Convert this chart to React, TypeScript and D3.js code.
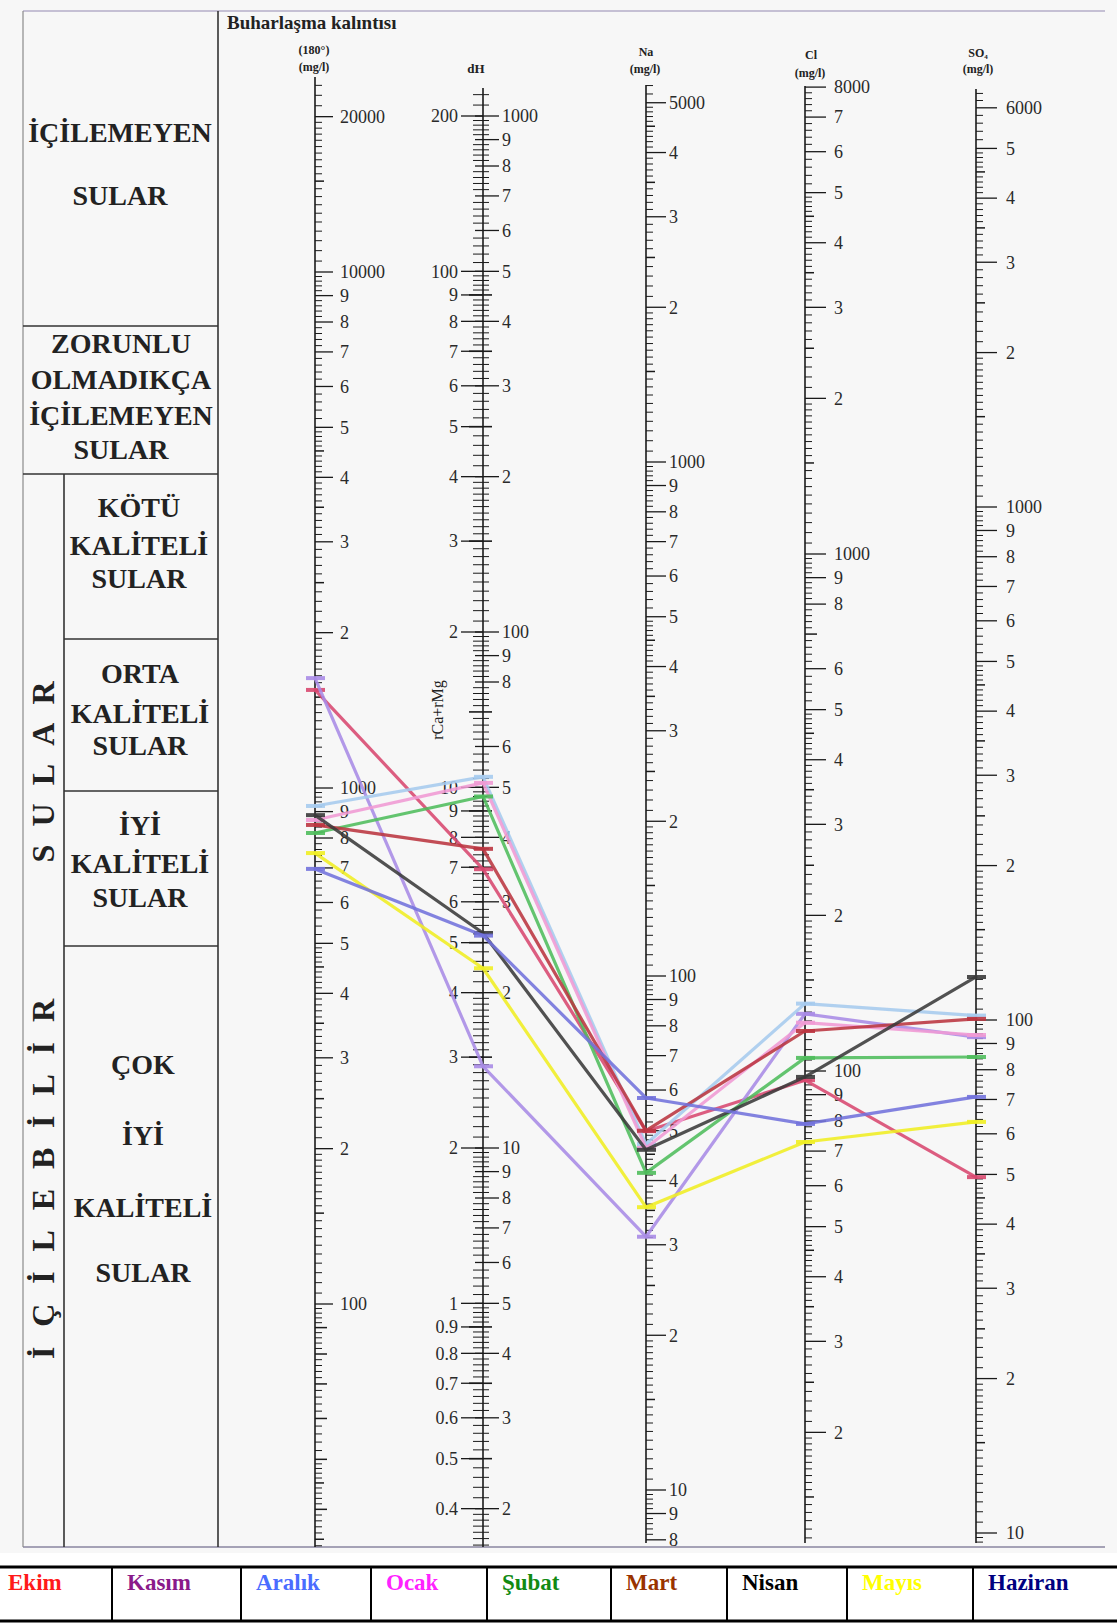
import React from 'react';
import * as d3 from 'd3';

// ---- data ----
const MONTHS = ['Ekim', 'Kasım', 'Aralık', 'Ocak', 'Şubat', 'Mart', 'Nisan', 'Mayıs', 'Haziran'];
const LEGEND_COLORS = ['#ff1a1a', '#8a1a8a', '#4a6cff', '#ff22ff', '#128a12', '#993300', '#000000', '#ffff00', '#000080'];
const PENCIL_COLORS = ['#d8486f', '#a98be6', '#a6cbee', '#f09ad4', '#4fbd5c', '#bb3540', '#3a3a3a', '#f0ee22', '#7272dc'];

// Buharlaşma kalıntısı (mg/l), dH, Na, Cl, SO4 (mg/l)
const TDS = [1549, 1633, 923, 867, 818, 848, 886, 748, 697];
const DH = [34.7, 14.4, 52.4, 51.0, 48.0, 38.0, 26.1, 22.3, 25.8];
const NA = [49.9, 31.1, 47.1, 46.3, 41.4, 50.0, 45.9, 35.5, 57.9];
const CL = [96, 129, 135, 124, 106, 119.5, 97.4, 72.9, 79];
const SO4 = [49.4, 92.6, 102, 93.5, 84.7, 100.5, 121.3, 63.3, 70.8];

// tick labels
const TDS_LABELS = [20000, 10000, 9000, 8000, 7000, 6000, 5000, 4000, 3000, 2000, 1000, 900, 800, 700, 600, 500, 400, 300, 200, 100];
const DH_RIGHT_LABELS = [1000, 900, 800, 700, 600, 500, 400, 300, 200, 100, 90, 80, 60, 50, 40, 30, 20, 10, 9, 8, 7, 6, 5, 4, 3, 2];
const DH_LEFT_LABELS = [200, 100, 90, 80, 70, 60, 50, 40, 30, 20, 10, 9, 8, 7, 6, 5, 4, 3, 2, 1, 0.9, 0.8, 0.7, 0.6, 0.5, 0.4];
const NA_LABELS = [5000, 4000, 3000, 2000, 1000, 900, 800, 700, 600, 500, 400, 300, 200, 100, 90, 80, 70, 60, 50, 40, 30, 20, 10, 9, 8];
const CL_LABELS = [8000, 7000, 6000, 5000, 4000, 3000, 2000, 1000, 900, 800, 600, 500, 400, 300, 200, 100, 90, 80, 70, 60, 50, 40, 30, 20];
const SO4_LABELS = [6000, 5000, 4000, 3000, 2000, 1000, 900, 800, 700, 600, 500, 400, 300, 200, 100, 90, 80, 70, 60, 50, 40, 30, 20, 10];
const SUBDIV = [[1, 2, 0.05], [2, 5, 0.1], [5, 10, 0.2]];

const near = (a: number, b: number) => Math.abs(a - b) / b < 1e-6;
const isPow10 = (v: number) => Math.abs(Math.log10(v) - Math.round(Math.log10(v))) < 1e-9;
function fmt(v: number, first: boolean) {
  if (v < 1) return String(v);
  if (first || isPow10(v)) return String(v);
  return String(Math.round(v / Math.pow(10, Math.floor(Math.log10(v) + 1e-9))));
}

function genTicks(scale: any, yTop: number, yBot: number) {
  const vTop = scale.invert(yTop), vBot = scale.invert(yBot);
  const lo = Math.min(vTop, vBot), hi = Math.max(vTop, vBot);
  const out: { v: number; kind: string }[] = [];
  for (let e = Math.floor(Math.log10(lo)); e <= Math.ceil(Math.log10(hi)); e++) {
    const base = Math.pow(10, e);
    for (const [a, b, s] of SUBDIV) {
      for (let m = a; m < b - 1e-9; m += s) {
        const mm = Math.round(m * 100) / 100;
        const v = base * mm;
        if (v < lo || v > hi) continue;
        const kind = Math.abs(mm - Math.round(mm)) < 1e-6 ? 'int' : Math.abs(mm * 2 - Math.round(mm * 2)) < 1e-6 ? 'half' : 'minor';
        out.push({ v, kind });
      }
    }
  }
  return out;
}

export default function App() {
  const W = 1117, H = 1623;
  const axes = [
    { key: 'tds', x: 315, yTop: 77, yBot: 1547, scale: d3.scaleLog().domain([1000, 100]).range([788, 1304]), labels: TDS_LABELS, dx: 25, major: 18 },
    { key: 'dh', x: 483, yTop: 88, yBot: 1547, scale: d3.scaleLog().domain([100, 10]).range([632, 1148]), labels: DH_RIGHT_LABELS, dx: 19, major: 16 },
    { key: 'na', x: 646, yTop: 85, yBot: 1543, scale: d3.scaleLog().domain([100, 10]).range([976, 1490]), labels: NA_LABELS, dx: 23, major: 20 },
    { key: 'cl', x: 805, yTop: 86, yBot: 1543, scale: d3.scaleLog().domain([100, 10]).range([1071, 1588]), labels: CL_LABELS, dx: 29, major: 21 },
    { key: 'so4', x: 976, yTop: 89, yBot: 1543, scale: d3.scaleLog().domain([100, 10]).range([1020, 1533]), labels: SO4_LABELS, dx: 30, major: 21 },
  ];
  const series = [TDS, DH, NA, CL, SO4];
  const line = d3.line<[number, number]>().x(d => d[0]).y(d => d[1]);
  const dhAxis = axes[1];

  const bold = { fontWeight: 'bold' as const };
  const colText = '#222';

  const blockText = (lines: string[], cx: number, baselines: number[]) =>
    lines.map((t, i) => (
      <text key={t + i} x={cx} y={baselines[i]} textAnchor="middle" fontSize={28} fill={colText} style={bold}>{t}</text>
    ));

  const legendSeps = [112, 241, 371, 487, 611, 727, 847, 973];
  const legendStarts = [0, ...legendSeps];

  return (
    <div style={{ position: 'absolute', left: 0, top: 0 }}>
      <svg width={W} height={H} fontFamily="'Liberation Serif','Times New Roman',serif" style={{ display: 'block' }}>
        <rect x={0} y={0} width={W} height={1553} fill="#f7f7f7" />
        <rect x={0} y={1553} width={W} height={H - 1553} fill="#ffffff" />

        {/* frame */}
        <line x1={23} x2={1105} y1={11} y2={11} stroke="#b4aec8" strokeWidth={1.5} />
        <line x1={23} x2={1105} y1={1547} y2={1547} stroke="#8a86a0" strokeWidth={1.5} />
        <line x1={23} x2={23} y1={11} y2={1547} stroke="#8a8a8a" strokeWidth={1.2} />
        <line x1={64} x2={64} y1={474} y2={1547} stroke="#333" strokeWidth={1.6} />
        <line x1={218} x2={218} y1={11} y2={1547} stroke="#333" strokeWidth={1.6} />
        <line x1={23} x2={218} y1={326} y2={326} stroke="#333" strokeWidth={1.6} />
        <line x1={23} x2={218} y1={474} y2={474} stroke="#333" strokeWidth={1.6} />
        <line x1={64} x2={218} y1={639} y2={639} stroke="#333" strokeWidth={1.6} />
        <line x1={64} x2={218} y1={791} y2={791} stroke="#333" strokeWidth={1.6} />
        <line x1={64} x2={218} y1={946} y2={946} stroke="#333" strokeWidth={1.6} />

        {/* class labels */}
        {blockText(['İÇİLEMEYEN', 'SULAR'], 120, [142, 205])}
        {blockText(['ZORUNLU', 'OLMADIKÇA', 'İÇİLEMEYEN', 'SULAR'], 121, [353, 389, 425, 459])}
        {blockText(['KÖTÜ', 'KALİTELİ', 'SULAR'], 139, [517, 555, 588])}
        {blockText(['ORTA', 'KALİTELİ', 'SULAR'], 140, [683, 723, 755])}
        {blockText(['İYİ', 'KALİTELİ', 'SULAR'], 140, [835, 873, 907])}
        {blockText(['ÇOK', 'İYİ', 'KALİTELİ', 'SULAR'], 143, [1074, 1145, 1217, 1282])}
        <text transform="translate(54,772) rotate(-90)" textAnchor="middle" fontSize={32} fill={colText} style={bold} textLength={181} lengthAdjust="spacing">SULAR</text>
        <text transform="translate(54,1179) rotate(-90)" textAnchor="middle" fontSize={32} fill={colText} style={bold} textLength={360} lengthAdjust="spacing">İÇİLEBİLİR</text>

        {/* headers */}
        <text x={227} y={29} fontSize={19} fill={colText} style={bold}>Buharlaşma kalıntısı</text>
        <text x={314} y={54} fontSize={12} textAnchor="middle" fill={colText} style={bold}>(180°)</text>
        <text x={314} y={71} fontSize={12} textAnchor="middle" fill={colText} style={bold}>(mg/l)</text>
        <text x={476} y={73} fontSize={13} textAnchor="middle" fill={colText} style={bold}>dH</text>
        <text x={646} y={56} fontSize={12} textAnchor="middle" fill={colText} style={bold}>Na</text>
        <text x={645} y={73} fontSize={12} textAnchor="middle" fill={colText} style={bold}>(mg/l)</text>
        <text x={811} y={59} fontSize={12} textAnchor="middle" fill={colText} style={bold}>Cl</text>
        <text x={810} y={77} fontSize={12} textAnchor="middle" fill={colText} style={bold}>(mg/l)</text>
        <text x={978} y={57} fontSize={12} textAnchor="middle" fill={colText} style={bold}>SO<tspan fontSize={7} dy={2}>4</tspan></text>
        <text x={978} y={73} fontSize={12} textAnchor="middle" fill={colText} style={bold}>(mg/l)</text>
        <text transform="translate(443,710) rotate(-90)" textAnchor="middle" fontSize={16} fill={colText}>rCa+rMg</text>

        {/* axes */}
        {axes.map(ax => {
          const ticks = genTicks(ax.scale, ax.yTop, ax.yBot);
          const isDh = ax.key === 'dh';
          return (
            <g key={ax.key} stroke="#1a1a1a">
              <line x1={ax.x} x2={ax.x} y1={ax.yTop} y2={ax.yBot} strokeWidth={1.6} />
              {ticks.map((t, i) => {
                const y = ax.scale(t.v);
                const labeled = ax.labels.some(l => near(t.v, l));
                if (labeled) return null;
                const len = t.kind === 'int' ? 12 : t.kind === 'half' ? 9 : 7;
                return isDh
                  ? <line key={i} x1={ax.x - (t.kind === 'minor' ? 10 : 14)} x2={ax.x + (t.kind === 'minor' ? 6 : 9)} y1={y} y2={y} strokeWidth={t.kind === 'minor' ? 1 : 1.6} />
                  : <line key={i} x1={ax.x} x2={ax.x + len} y1={y} y2={y} strokeWidth={t.kind === 'minor' ? 1 : 1.5} />;
              })}
              {ax.labels.map((l, i) => {
                const y = ax.scale(l);
                return (
                  <g key={'l' + i}>
                    <line x1={isDh ? ax.x - 8 : ax.x} x2={ax.x + ax.major} y1={y} y2={y} strokeWidth={1.3} />
                    <text x={ax.x + ax.dx} y={y} dy="0.35em" fontSize={18} fill="#2a2a2a" stroke="none">{fmt(l, i === 0)}</text>
                  </g>
                );
              })}
            </g>
          );
        })}
        {/* dH left (rCa+rMg) labels */}
        <g stroke="#1a1a1a">
          {DH_LEFT_LABELS.map((l, i) => {
            const y = dhAxis.scale(l * 5);
            return (
              <g key={'dl' + i}>
                <line x1={dhAxis.x - 22} x2={dhAxis.x} y1={y} y2={y} strokeWidth={1.3} />
                <text x={dhAxis.x - 25} y={y} dy="0.35em" textAnchor="end" fontSize={18} fill="#2a2a2a" stroke="none">{fmt(l, i === 0)}</text>
              </g>
            );
          })}
        </g>

        {/* month lines */}
        {MONTHS.map((m, si) => {
          const pts: [number, number][] = axes.map((ax, ai) => [ax.x, ax.scale(series[ai][si])]);
          return (
            <g key={m}>
              <path d={line(pts) || ''} fill="none" stroke={PENCIL_COLORS[si]} strokeWidth={3.2} strokeOpacity={0.88} strokeLinejoin="round" strokeLinecap="round" />
              {pts.map((p, pi) => (
                <line key={pi} x1={p[0] - 9} x2={p[0] + 10} y1={p[1]} y2={p[1]} stroke={PENCIL_COLORS[si]} strokeWidth={4} strokeOpacity={0.9} />
              ))}
            </g>
          );
        })}

        {/* legend */}
        <line x1={0} x2={W} y1={1567} y2={1567} stroke="#000" strokeWidth={3} />
        <line x1={0} x2={W} y1={1621} y2={1621} stroke="#000" strokeWidth={3} />
        {legendSeps.map(x => <line key={x} x1={x} x2={x} y1={1567} y2={1621} stroke="#000" strokeWidth={2} />)}
        {MONTHS.map((m, i) => (
          <text key={m} x={legendStarts[i] + (i === 0 ? 8 : 15)} y={1590} fontSize={23} fill={LEGEND_COLORS[i]} style={bold}>{m}</text>
        ))}
      </svg>
    </div>
  );
}
